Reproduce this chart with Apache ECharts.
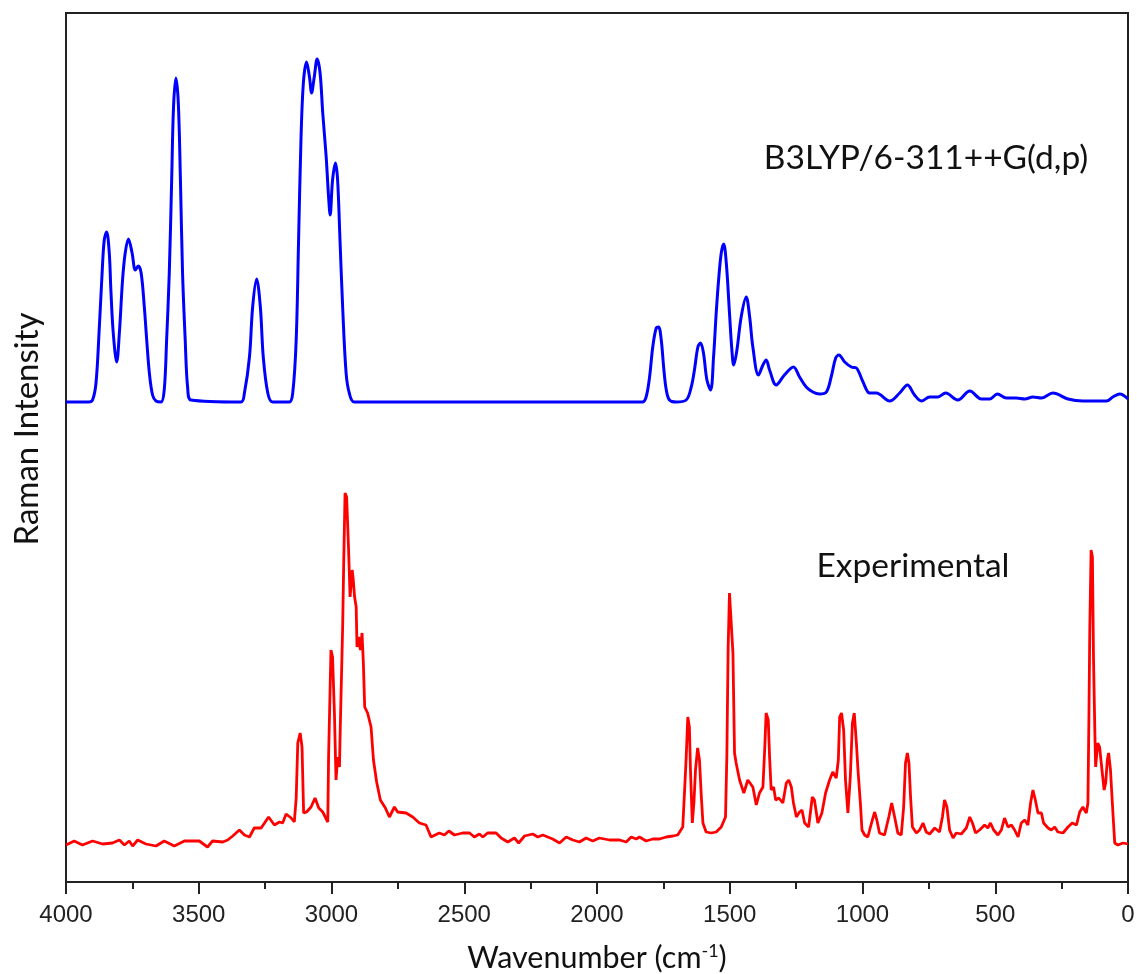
<!DOCTYPE html>
<html>
<head>
<meta charset="utf-8">
<script src="https://cdn.jsdelivr.net/npm/echarts@6/dist/echarts.min.js"></script>
<style>
  html, body { margin: 0; padding: 0; background: #fff; }
  #main { width: 1137px; height: 974px; }
</style>
</head>
<body>
<div id="main"></div>
<script>
// Raman spectra: B3LYP calculated (offset upward) vs experimental
// intensities are arbitrary units (0 = bottom of frame)

const calcWavenumber = [
  4000, 3915, 3900, 3887, 3875, 3864, 3856, 3847, 3837, 3831, 3822, 3809, 3799, 3787, 3777, 3765,
  3751, 3739, 3728, 3717, 3705, 3696, 3686, 3674, 3661, 3642, 3630, 3621, 3611, 3602, 3595, 3586,
  3577, 3569, 3561, 3551, 3542, 3529, 3341, 3328, 3309, 3297, 3282, 3268, 3257, 3240, 3222, 3159,
  3146, 3133, 3124, 3115, 3106, 3094, 3083, 3075, 3065, 3054, 3043, 3033, 3020, 3011, 3005, 2996,
  2985, 2977, 2968, 2958, 2945, 2933, 2914, 1829, 1815, 1802, 1790, 1777, 1768, 1758, 1748, 1739,
  1727, 1702, 1664, 1645, 1633, 1620, 1610, 1599, 1586, 1572, 1561, 1551, 1542, 1532, 1523, 1513,
  1501, 1492, 1485, 1473, 1457, 1438, 1425, 1413, 1392, 1375, 1363, 1350, 1325, 1294, 1260, 1237,
  1212, 1187, 1162, 1136, 1118, 1101, 1089, 1067, 1042, 1023, 998, 973, 948, 898, 860, 831,
  804, 778, 747, 716, 687, 641, 596, 552, 521, 492, 458, 421, 389, 358, 326, 283,
  226, 170, 81, 57, 31, 0
];
const calcIntensity = [
  480, 480, 482, 499, 552, 609, 642, 650, 629, 592, 549, 520, 549, 602, 629, 643,
  629, 612, 616, 609, 575, 542, 509, 487, 481, 480, 492, 542, 609, 702, 775, 804,
  779, 702, 609, 542, 495, 482, 480, 489, 525, 575, 603, 575, 525, 489, 480, 480,
  489, 542, 642, 742, 799, 820, 805, 789, 805, 823, 809, 769, 725, 685, 667, 702,
  719, 702, 642, 575, 509, 489, 480, 480, 485, 505, 535, 554, 555, 542, 512, 492,
  482, 480, 482, 495, 512, 535, 539, 529, 502, 492, 525, 569, 602, 629, 638, 619,
  569, 532, 517, 532, 565, 585, 565, 535, 507, 517, 522, 512, 497, 507, 515, 505,
  495, 490, 488, 490, 505, 524, 527, 520, 515, 514, 500, 489, 489, 481, 489, 497,
  487, 481, 485, 485, 489, 482, 491, 483, 483, 488, 484, 484, 483, 485, 484, 489,
  483, 481, 481, 485, 488, 483
];

const expWavenumber = [
  4000, 3969, 3938, 3900, 3862, 3825, 3799, 3780, 3762, 3749, 3730, 3699, 3661, 3630, 3592, 3554,
  3498, 3467, 3448, 3410, 3391, 3372, 3347, 3328, 3309, 3291, 3265, 3237, 3215, 3196, 3184, 3171,
  3152, 3140, 3133, 3127, 3118, 3111, 3105, 3094, 3077, 3062, 3048, 3033, 3014, 3011, 3002, 2996,
  2989, 2983, 2977, 2970, 2967, 2958, 2954, 2949, 2943, 2936, 2930, 2922, 2918, 2913, 2907, 2904,
  2898, 2891, 2885, 2880, 2875, 2864, 2851, 2842, 2830, 2816, 2797, 2782, 2763, 2751, 2719, 2694,
  2669, 2644, 2625, 2594, 2575, 2558, 2537, 2506, 2480, 2462, 2443, 2430, 2412, 2380, 2361, 2336,
  2311, 2295, 2273, 2242, 2223, 2204, 2167, 2141, 2116, 2091, 2066, 2041, 2016, 1991, 1953, 1915,
  1890, 1871, 1852, 1840, 1815, 1790, 1765, 1739, 1714, 1696, 1677, 1670, 1664, 1658, 1652, 1648,
  1641, 1635, 1629, 1621, 1614, 1607, 1601, 1589, 1570, 1551, 1532, 1516, 1511, 1506, 1501, 1494,
  1488, 1482, 1476, 1463, 1447, 1432, 1413, 1400, 1388, 1375, 1368, 1363, 1355, 1350, 1344, 1335,
  1327, 1315, 1300, 1287, 1278, 1268, 1260, 1249, 1237, 1228, 1218, 1203, 1189, 1181, 1168, 1153,
  1139, 1124, 1112, 1099, 1091, 1086, 1079, 1071, 1064, 1055, 1046, 1038, 1031, 1023, 1017, 1008,
  1002, 992, 980, 973, 963, 954, 946, 936, 917, 901, 890, 879, 867, 854, 845, 838,
  831, 825, 819, 812, 797, 785, 772, 760, 747, 728, 710, 699, 691, 682, 672, 659,
  647, 628, 609, 596, 586, 574, 559, 540, 528, 518, 506, 490, 477, 465, 452, 439,
  427, 414, 402, 389, 377, 367, 358, 349, 339, 326, 318, 301, 289, 276, 264, 245,
  226, 210, 194, 182, 170, 157, 151, 147, 144, 139, 134, 130, 125, 122, 114, 107,
  98, 90, 84, 78, 73, 66, 59, 50, 38, 19, 0
];
const expIntensity = [
  37, 41, 37, 41, 38, 39, 42, 37, 41, 36, 42, 38, 36, 41, 36, 41,
  41, 35, 41, 40, 42, 46, 52, 47, 45, 54, 54, 65, 57, 60, 59, 68,
  64, 60, 84, 139, 149, 135, 69, 70, 75, 84, 74, 70, 60, 125, 232, 225,
  169, 102, 125, 115, 154, 255, 319, 389, 385, 335, 285, 312, 302, 285, 275, 235,
  245, 232, 249, 219, 175, 169, 155, 122, 100, 82, 74, 65, 75, 70, 69, 65,
  59, 57, 45, 49, 47, 51, 47, 49, 49, 45, 48, 45, 49, 49, 44, 40,
  44, 39, 46, 48, 45, 47, 43, 39, 45, 42, 40, 44, 41, 44, 42, 42,
  40, 45, 43, 45, 41, 43, 43, 45, 46, 47, 55, 92, 125, 165, 155, 112,
  59, 79, 112, 134, 122, 85, 59, 50, 49, 50, 55, 65, 125, 235, 289, 289,
  229, 129, 119, 102, 89, 102, 95, 77, 89, 95, 135, 169, 162, 125, 92, 95,
  82, 84, 79, 99, 102, 95, 79, 65, 70, 72, 59, 55, 85, 82, 59, 69,
  89, 102, 110, 104, 122, 165, 169, 152, 102, 69, 105, 159, 169, 139, 112, 79,
  52, 47, 45, 52, 62, 70, 62, 49, 47, 65, 79, 65, 49, 47, 75, 119,
  129, 119, 85, 55, 49, 52, 59, 50, 48, 54, 50, 65, 82, 75, 52, 44,
  49, 48, 54, 65, 59, 49, 52, 57, 54, 59, 52, 47, 52, 64, 55, 57,
  52, 45, 59, 62, 57, 79, 92, 82, 69, 69, 59, 54, 52, 55, 50, 49,
  55, 59, 57, 70, 75, 69, 79, 169, 252, 332, 325, 225, 152, 115, 139, 135,
  112, 92, 99, 122, 129, 112, 79, 39, 37, 39, 38
];

const xTickInterval = 500;
const spectrumLabels = ['B3LYP/6-311++G(d,p)', 'Experimental'];

const zip = (xs, ys) => xs.map((x, i) => [x, ys[i]]);

const textFont = 'Lato, "Open Sans", sans-serif';
const axisColor = '#222';

const option = {
  animation: false,
  backgroundColor: '#fff',
  grid: {
    left: 66, right: 9, top: 13, bottom: 92,
    outerBoundsMode: 'none',
    containLabel: false,
    show: true, borderColor: axisColor, borderWidth: 2
  },
  xAxis: {
    type: 'value',
    min: 0,
    max: 4000,
    interval: xTickInterval,
    inverse: true,
    axisLine: { lineStyle: { color: axisColor, width: 2 } },
    axisTick: { length: 12, lineStyle: { color: axisColor, width: 2 } },
    minorTick: { show: true, splitNumber: 2, length: 7, lineStyle: { color: axisColor, width: 2 } },
    splitLine: { show: false },
    axisLabel: {
      fontSize: 24,
      fontFamily: '"Liberation Sans", Arial, sans-serif',
      color: axisColor,
      margin: 21,
      formatter: v => String(v)
    },
    name: '{a|Wavenumber (cm}{s|-1}{a|)}',
    nameLocation: 'middle',
    nameGap: 60,
    nameTextStyle: {
      rich: {
        a: { fontSize: 30.5, fontFamily: textFont, color: '#111' },
        s: { fontSize: 18, fontFamily: textFont, color: '#111', padding: [0, 0, 14, 0] }
      }
    }
  },
  yAxis: {
    type: 'value',
    min: 0,
    max: 869,
    axisLine: { show: true, lineStyle: { color: axisColor, width: 2 } },
    axisTick: { show: false },
    axisLabel: { show: false },
    splitLine: { show: false }
  },
  graphic: [
    {
      type: 'text', x: 27, y: 429, rotation: Math.PI / 2,
      style: { text: 'Raman Intensity', font: '33px ' + textFont, fill: '#111', align: 'center', verticalAlign: 'middle' }
    },
    {
      type: 'text', x: 926, y: 158,
      style: { text: spectrumLabels[0], font: '33.5px ' + textFont, fill: '#111', align: 'center', verticalAlign: 'middle' }
    },
    {
      type: 'text', x: 913, y: 566,
      style: { text: spectrumLabels[1], font: '33.5px ' + textFont, fill: '#111', align: 'center', verticalAlign: 'middle' }
    }
  ],
  series: [
    {
      name: spectrumLabels[0],
      type: 'line',
      data: zip(calcWavenumber, calcIntensity),
      showSymbol: false,
      smooth: 0.35,
      lineStyle: { color: '#0000ff', width: 3 },
      z: 3
    },
    {
      name: spectrumLabels[1],
      type: 'line',
      data: zip(expWavenumber, expIntensity),
      showSymbol: false,
      lineStyle: { color: '#ff0000', width: 2.8 },
      z: 3
    }
  ]
};

const chart = echarts.init(document.getElementById('main'), null, { renderer: 'canvas' });
chart.setOption(option);
</script>
</body>
</html>
